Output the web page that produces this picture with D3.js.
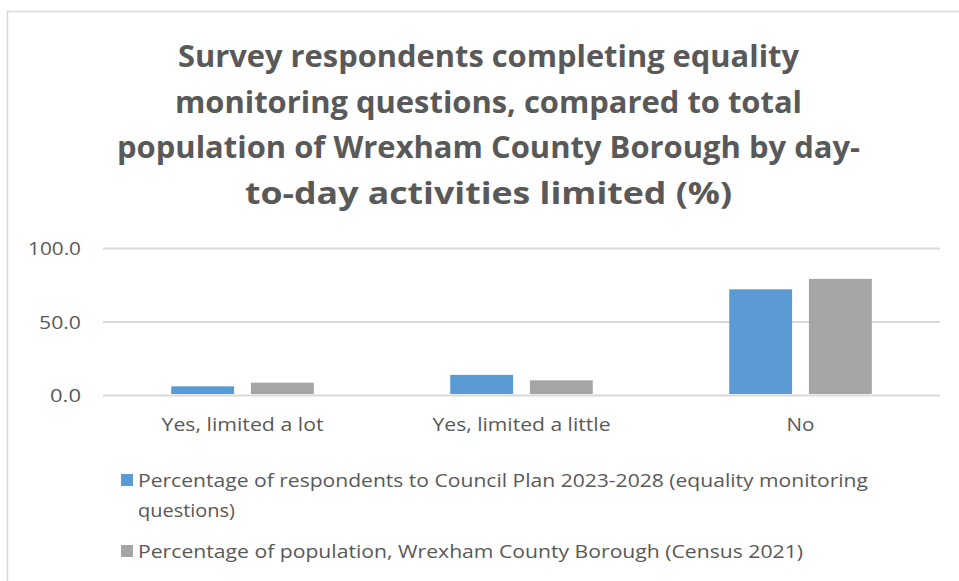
<!DOCTYPE html>
<html><head><meta charset="utf-8">
<script src="https://cdn.jsdelivr.net/npm/d3@7"></script>
<style>body{margin:0;background:#fff}svg{display:block}</style>
</head><body><svg id="c" width="959" height="581"></svg>
<script>
const titleLines = ["Survey respondents completing equality","monitoring questions, compared to total","population of Wrexham County Borough by day-","to-day activities limited (%)"];
const categories = ["Yes, limited a lot","Yes, limited a little","No"];
const seriesNames = ["Percentage of respondents to Council Plan 2023-2028 (equality monitoring questions)","Percentage of population, Wrexham County Borough (Census 2021)"];
const respondents = [5.9, 13.7, 71.9];
const population = [8.4, 10.0, 79.0];
const yTicks = [0, 50, 100];
const colors = ["#5B9BD5","#A5A5A5"];

(function(){
const svg = d3.select("#c");
const font = "'Open Sans', 'Liberation Sans', sans-serif";
// chart border
svg.append("rect").attr("x",7.5).attr("y",11.5).attr("width",970).attr("height",600)
  .attr("fill","none").attr("stroke","#d9d9d9").attr("stroke-width",1.5);

// title
const tWidths=[621,627,743,487];
titleLines.forEach((t,i)=>{
  svg.append("text").attr("x",488.5).attr("y",67+i*45.5).attr("text-anchor","middle")
    .attr("font-family",font).attr("font-weight","bold").attr("font-size",30).attr("fill","#595959")
    .attr("textLength",tWidths[i]).attr("lengthAdjust","spacingAndGlyphs").text(t);
});

const pL=103,pR=940,pT=248,pB=395;
const y = d3.scaleLinear().domain([0,100]).range([pB,pT]);
const x0 = d3.scaleBand().domain(categories).range([pL,pR]).paddingInner(0.489).paddingOuter(0.2445);
const x1 = d3.scaleBand().domain([0,1]).range([0,x0.bandwidth()]).paddingInner(0.211).paddingOuter(0);

// grid
const yAxis = d3.axisLeft(y).tickValues(yTicks).tickSize(-(pR-pL)).tickFormat(d3.format(".1f")).tickPadding(22);
const g = svg.append("g").attr("transform",`translate(${pL},0)`).call(yAxis);
g.select(".domain").remove();
g.selectAll(".tick line").attr("stroke","#d9d9d9").attr("stroke-width",2);
g.selectAll(".tick text").attr("font-family",font).attr("font-size",19).attr("fill","#595959").attr("dy","0.36em");
const yw={0:31,50:42,100:53};
g.selectAll(".tick text").each(function(d){d3.select(this).attr("textLength",yw[d]).attr("lengthAdjust","spacingAndGlyphs");});

// bars
const data = categories.map((c,i)=>({c,vals:[respondents[i],population[i]]}));
const grp = svg.append("g").selectAll("g").data(data).join("g").attr("transform",d=>`translate(${x0(d.c)},0)`);
grp.selectAll("rect").data(d=>d.vals.map((v,k)=>({v,k}))).join("rect")
  .attr("x",d=>x1(d.k)).attr("width",x1.bandwidth())
  .attr("y",d=>y(d.v)).attr("height",d=>y(0)-y(d.v)-1).attr("fill",d=>colors[d.k]);

// x labels
const xAxis = d3.axisBottom(x0).tickSize(0).tickPadding(23);
const gx = svg.append("g").attr("transform",`translate(0,${pB})`).call(xAxis);
gx.select(".domain").remove();
gx.selectAll(".tick text").attr("font-family",font).attr("font-size",19).attr("fill","#595959");
const xw=[162,178,28];
gx.selectAll(".tick text").each(function(d,i){d3.select(this).attr("textLength",xw[i]).attr("lengthAdjust","spacingAndGlyphs");});

// legend
const leg = [
  {k:0, lines:["Percentage of respondents to Council Plan 2023-2028 (equality monitoring","questions)"], y:487, w:[730,97]},
  {k:1, lines:["Percentage of population, Wrexham County Borough (Census 2021)"], y:558, w:[665]}
];
leg.forEach(l=>{
  svg.append("rect").attr("x",121).attr("y",l.y-13).attr("width",12).attr("height",12).attr("fill",colors[l.k]);
  l.lines.forEach((t,j)=>{
    svg.append("text").attr("x",138).attr("y",l.y+j*30).attr("font-family",font).attr("font-size",19)
      .attr("fill","#595959").attr("textLength",l.w[j]).attr("lengthAdjust","spacingAndGlyphs").text(t);
  });
});
})();
</script></body></html>
